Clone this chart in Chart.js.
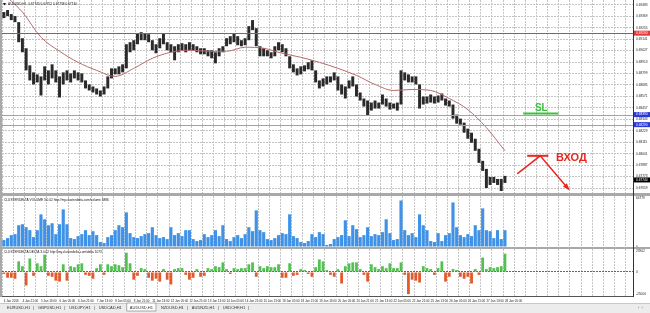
<!DOCTYPE html>
<html lang="en">
<head>
<meta charset="UTF-8">
<title>AUDUSD,H1</title>
<script src="https://cdn.jsdelivr.net/npm/chart.js"></script>
<style>
  body { margin: 0; width: 650px; height: 313px; background: #fff; position: relative; overflow: hidden; }
  canvas { position: absolute; left: 2px; }
  .sep { position: absolute; background: #a9a9a9; }
</style>
</head>
<body>
<div class="sep" style="left:0;top:0;width:2px;height:297px"></div>
<canvas id="priceChart" width="631" height="193" style="top:0"></canvas>
<div class="sep" style="left:0;top:193px;width:650px;height:3px"></div>
<canvas id="volChart" width="648" height="51" style="top:196px"></canvas>
<div class="sep" style="left:0;top:247px;width:650px;height:2px"></div>
<canvas id="deltaChart" width="648" height="56" style="top:249px"></canvas>
<div style="position:absolute;left:633px;top:0;width:1px;height:297px;background:#333"></div>
<div style="position:absolute;left:2px;top:296px;width:631px;height:1px;background:#555"></div>
<canvas id="frame" width="650" height="313" style="left:0;top:0"></canvas>

<script>
// time axis labels, one every 5 slots
var timeLabels = ["4 Jan 2016", "4 Jan 21:00", "5 Jan 13:00", "6 Jan 05:00", "6 Jan 21:00", "7 Jan 13:00",
  "8 Jan 05:00", "8 Jan 21:00", "11 Jan 13:00", "12 Jan 05:00", "12 Jan 21:00", "13 Jan 13:00",
  "14 Jan 05:00", "14 Jan 21:00", "15 Jan 13:00", "18 Jan 05:00", "18 Jan 21:00", "19 Jan 13:00",
  "20 Jan 05:00", "20 Jan 21:00", "21 Jan 13:00", "22 Jan 05:00", "22 Jan 21:00", "25 Jan 13:00",
  "26 Jan 05:00", "26 Jan 21:00", "27 Jan 13:00", "28 Jan 05:00"];

var highs = [
  0.6941, 0.6943, 0.6939, 0.6937, 0.6931, 0.6915, 0.6905, 0.6888, 0.6881, 0.6879,
  0.6877, 0.6887, 0.6883, 0.6889, 0.6883, 0.6877, 0.6881, 0.6883, 0.6880, 0.6883,
  0.6881, 0.6880, 0.6873, 0.6869, 0.6867, 0.6865, 0.6863, 0.6867, 0.6877, 0.6885,
  0.6885, 0.6887, 0.6889, 0.6909, 0.6911, 0.6913, 0.6920, 0.6921, 0.6920, 0.6919,
  0.6913, 0.6909, 0.6915, 0.6920, 0.6911, 0.6909, 0.6907, 0.6909, 0.6910, 0.6909,
  0.6911, 0.6909, 0.6907, 0.6905, 0.6905, 0.6903, 0.6903, 0.6901, 0.6905, 0.6907,
  0.6915, 0.6917, 0.6920, 0.6917, 0.6913, 0.6915, 0.6927, 0.6933, 0.6925, 0.6907,
  0.6905, 0.6903, 0.6901, 0.6907, 0.6911, 0.6909, 0.6905, 0.6897, 0.6889, 0.6885,
  0.6887, 0.6888, 0.6891, 0.6893, 0.6883, 0.6873, 0.6875, 0.6877, 0.6877, 0.6881,
  0.6877, 0.6869, 0.6867, 0.6873, 0.6877, 0.6869, 0.6861, 0.6855, 0.6853, 0.6851,
  0.6853, 0.6851, 0.6859, 0.6855, 0.6851, 0.6850, 0.6851, 0.6883, 0.6881, 0.6879,
  0.6877, 0.6877, 0.6869, 0.6857, 0.6857, 0.6859, 0.6857, 0.6858, 0.6860, 0.6855,
  0.6853, 0.6849, 0.6839, 0.6835, 0.6831, 0.6825, 0.6821, 0.6815, 0.6805, 0.6793,
  0.6785, 0.6777, 0.6777, 0.6775, 0.6775, 0.6778];

var lows = [
  0.6935, 0.6937, 0.6933, 0.6931, 0.6911, 0.6901, 0.6883, 0.6873, 0.6869, 0.6871,
  0.6858, 0.6873, 0.6869, 0.6875, 0.6871, 0.6856, 0.6869, 0.6873, 0.6871, 0.6875,
  0.6873, 0.6871, 0.6865, 0.6863, 0.6861, 0.6859, 0.6857, 0.6859, 0.6865, 0.6875,
  0.6879, 0.6879, 0.6881, 0.6885, 0.6901, 0.6903, 0.6909, 0.6913, 0.6913, 0.6911,
  0.6903, 0.6900, 0.6905, 0.6909, 0.6903, 0.6901, 0.6893, 0.6901, 0.6903, 0.6901,
  0.6903, 0.6903, 0.6901, 0.6899, 0.6899, 0.6897, 0.6895, 0.6890, 0.6897, 0.6901,
  0.6907, 0.6909, 0.6911, 0.6908, 0.6907, 0.6908, 0.6913, 0.6923, 0.6907, 0.6897,
  0.6897, 0.6897, 0.6895, 0.6897, 0.6903, 0.6901, 0.6897, 0.6885, 0.6881, 0.6878,
  0.6879, 0.6882, 0.6884, 0.6883, 0.6871, 0.6865, 0.6867, 0.6869, 0.6871, 0.6873,
  0.6863, 0.6859, 0.6855, 0.6865, 0.6867, 0.6857, 0.6853, 0.6847, 0.6838, 0.6843,
  0.6845, 0.6845, 0.6849, 0.6847, 0.6844, 0.6845, 0.6843, 0.6849, 0.6873, 0.6871,
  0.6871, 0.6869, 0.6845, 0.6849, 0.6850, 0.6851, 0.6850, 0.6851, 0.6853, 0.6848,
  0.6847, 0.6835, 0.6830, 0.6829, 0.6821, 0.6815, 0.6811, 0.6803, 0.6791, 0.6783,
  0.6766, 0.6769, 0.6771, 0.6769, 0.6763, 0.6771];

// moving average read at a few slots
var maIndex = [0, 2, 5, 10, 15, 20, 25, 30, 35, 40, 45, 50, 55, 60, 65, 70, 75, 80, 85, 90, 95,
  100, 105, 110, 115, 120, 125, 130, 135];
var maValues = [0.6959, 0.6952, 0.6941, 0.6916, 0.6902, 0.6891, 0.6883, 0.6877, 0.6885, 0.6895,
  0.6901, 0.6903, 0.6902, 0.6902, 0.6906, 0.6905, 0.6900, 0.6896, 0.6891, 0.6885, 0.6878,
  0.6869, 0.6863, 0.6864, 0.6863, 0.6855, 0.6844, 0.6826, 0.6803];

var volumes = [
  9240, 11880, 15840, 17160, 29040, 30360, 26400, 22440, 13200, 22440,
  43560, 36960, 29040, 31680, 17160, 30360, 50160, 30360, 11880, 10560,
  14520, 17160, 22440, 15840, 21120, 15840, 6600, 5280, 13200, 15840,
  22440, 29040, 26400, 46200, 18480, 13200, 11880, 14520, 17160, 18480,
  26400, 15840, 11880, 13200, 10560, 26400, 15840, 18480, 14520, 22440,
  22440, 10560, 7920, 9240, 17160, 13200, 15840, 22440, 14520, 29040,
  10560, 7920, 13200, 15840, 11880, 17160, 26400, 21120, 48840, 22440,
  19800, 10560, 9240, 11880, 15840, 18480, 17160, 43560, 14520, 11880,
  6600, 5280, 7920, 17160, 13200, 19800, 17160, 2640, 3960, 10560,
  13200, 15840, 35640, 14520, 29040, 23760, 13200, 15840, 26400, 14520,
  17160, 15840, 19800, 36960, 18480, 9240, 10560, 62040, 22440, 15840,
  18480, 13200, 43560, 29040, 22440, 7920, 6600, 18480, 7920, 15840,
  18480, 59400, 26400, 15840, 13200, 17160, 14520, 29040, 22440, 51480,
  22440, 21120, 11880, 22440, 10560, 22440];

var deltas = [
  -2180, -6540, -6540, -7630, 11990, 6540, -15260, 15260, -4360, 9810,
  6540, 19620, -4360, -5450, -9810, -10900, 8720, -9810, 6540, 5450,
  8720, 9810, -3270, -4360, -7630, 4360, 8720, -3270, 8720, 6540,
  8720, 7630, 5450, 21800, 9810, -8720, -4360, 4360, 3270, -6540,
  -9810, -7630, -10900, 3270, -8720, -14170, 3270, 4360, 4360, -3270,
  -8720, -6540, 3270, -5450, -4360, 4360, 3270, 6540, 5450, 10900,
  3270, -2180, 4360, 3270, 4360, 4360, 8720, 10900, -5450, 6540,
  4360, 6540, 5450, 5450, 8720, -6540, -6540, 9810, -4360, -3270,
  3270, 2180, -2180, -5450, 5450, 14170, 11990, 2180, -3270, -5450,
  3270, -13080, 6540, 9810, 10900, 10900, 3270, -3270, -10900, 8720,
  5450, 3270, 6540, 4360, 9810, 4360, 4360, 10900, -3270, -25070,
  -8720, -9810, -11990, 6540, 4360, 3270, -3270, 4360, 11990, -10900,
  -5450, 3270, 2180, -5450, -7630, -5450, -13080, 3270, -3270, 16350,
  3270, 5450, 4360, 5450, 6540, 20710];

var priceTicks = [0.69483, 0.69369, 0.69255, 0.69141, 0.69027, 0.68913, 0.68799, 0.68685, 0.68571,
  0.68457, 0.68343, 0.68229, 0.68115, 0.68001, 0.67887, 0.67773, 0.67659];
var volumeTicks = [0, 64779];
var deltaTicks = [-25000, 0, 23902];
var levelPrices = [0.6920, 0.6839, 0.6829];
var lastPrice = 0.6774;

var slotCount = 170;
var fontFamily = '"Liberation Sans", Arial, sans-serif';

var categories = [];
for (var i = 0; i < slotCount; i++) {
  categories.push(i % 5 === 0 && timeLabels[i / 5] ? timeLabels[i / 5] : '');
}
var maLine = new Array(slotCount).fill(null);
maIndex.forEach(function (k, j) { maLine[k] = maValues[j]; });

function xAxis(showLabels) {
  return {
    type: 'category',
    offset: true,
    grid: {
      offset: true,
      color: function (c) { return c.index % 3 === 0 ? '#c4c4c4' : 'rgba(0,0,0,0)'; },
      drawTicks: showLabels,
      tickLength: 3,
      tickColor: 'rgba(0,0,0,0)'
    },
    border: { display: false, dash: [2, 1] },
    ticks: {
      display: showLabels, autoSkip: false, maxRotation: 0, minRotation: 0, align: 'start', padding: 0,
      color: '#222', font: { size: 3, family: fontFamily }
    },
    afterFit: function (s) { s.height = showLabels ? 9 : 0; s.paddingLeft = 0; s.paddingRight = 0; }
  };
}

function yAxis(tickValues, min, max, gridColor, fmt) {
  return {
    position: 'right', min: min, max: max,
    afterBuildTicks: function (s) { s.ticks = tickValues.map(function (v) { return { value: v }; }); },
    afterFit: function (s) { s.width = 17; s.paddingTop = 0; s.paddingBottom = 0; },
    grid: { color: gridColor, drawTicks: false },
    border: { display: false, dash: [2, 1] },
    ticks: { padding: 3, color: '#222', font: { size: 3.2, family: fontFamily }, callback: fmt }
  };
}

var common = {
  responsive: false, animation: false, devicePixelRatio: 1,
  layout: { padding: 0 },
  plugins: { legend: { display: false }, tooltip: { enabled: false } }
};

// levels, SL and entry marks on the price chart
var priceMarks = {
  id: 'priceMarks',
  afterDatasetsDraw: function (chart) {
    var ctx = chart.ctx, a = chart.chartArea, x = chart.scales.x, y = chart.scales.y;
    ctx.save();
    ctx.setLineDash([]);
    ctx.globalAlpha = 1;
    levelPrices.forEach(function (p, k) {
      var py = Math.round(y.getPixelForValue(p));
      ctx.fillStyle = k === 0 ? 'rgb(226, 60, 60)' : 'rgb(160, 160, 174)';
      ctx.fillRect(a.left, py, a.right - a.left, 1);
    });

    // SL
    ctx.strokeStyle = '#3cbf3c'; ctx.lineWidth = 2;
    ctx.beginPath();
    ctx.moveTo(x.getPixelForValue(139.9), y.getPixelForValue(0.6840));
    ctx.lineTo(x.getPixelForValue(149.4), y.getPixelForValue(0.6840));
    ctx.stroke();
    ctx.fillStyle = '#3cbf3c';
    ctx.font = 'bold 10px ' + fontFamily;
    ctx.textAlign = 'center'; ctx.textBaseline = 'alphabetic';
    ctx.fillText('SL', x.getPixelForValue(144.8), y.getPixelForValue(0.68425));

    // entry
    ctx.strokeStyle = '#e5281f'; ctx.lineWidth = 2;
    ctx.beginPath();
    ctx.moveTo(x.getPixelForValue(141.0), y.getPixelForValue(0.6798));
    ctx.lineTo(x.getPixelForValue(146.7), y.getPixelForValue(0.6798));
    ctx.stroke();
    ctx.lineWidth = 1.5;
    var x0 = x.getPixelForValue(138.3), y0 = y.getPixelForValue(0.6780);
    var x1 = x.getPixelForValue(144.5), y1 = y.getPixelForValue(0.6798);
    var x2 = x.getPixelForValue(152.1), y2 = y.getPixelForValue(0.6765);
    ctx.beginPath(); ctx.moveTo(x0, y0); ctx.lineTo(x1, y1); ctx.lineTo(x2, y2); ctx.stroke();
    var ang = Math.atan2(y2 - y1, x2 - x1);
    ctx.fillStyle = '#e5281f';
    ctx.beginPath();
    ctx.moveTo(x2 + 2 * Math.cos(ang), y2 + 2 * Math.sin(ang));
    ctx.lineTo(x2 - 6 * Math.cos(ang - 0.45), y2 - 6 * Math.sin(ang - 0.45));
    ctx.lineTo(x2 - 6 * Math.cos(ang + 0.45), y2 - 6 * Math.sin(ang + 0.45));
    ctx.closePath(); ctx.fill();
    ctx.font = 'bold 11px ' + fontFamily;
    ctx.fillText('ВХОД', x.getPixelForValue(152.9), y.getPixelForValue(0.6793));
    ctx.restore();
  }
};

new Chart(document.getElementById('priceChart'), {
  type: 'bar',
  data: {
    labels: categories,
    datasets: [
      { type: 'line', data: maLine, borderColor: '#b76b6b', borderWidth: 1, pointRadius: 0,
        spanGaps: true, cubicInterpolationMode: 'monotone', order: 0 },
      { data: highs.map(function (h, k) { return [lows[k], h]; }), backgroundColor: '#2a2a2a',
        barPercentage: 0.8, categoryPercentage: 1, order: 1 }
    ]
  },
  options: Object.assign({}, common, {
    scales: {
      x: xAxis(false),
      y: Object.assign(yAxis(priceTicks, 0.6761, 0.6953, '#c4c4c4', function (v) { return v.toFixed(5); }),
        { afterFit: function (s) { s.width = 0; s.paddingTop = 0; s.paddingBottom = 0; }, ticks: { display: false } })
    }
  }),
  plugins: [priceMarks]
});

new Chart(document.getElementById('volChart'), {
  type: 'bar',
  data: { labels: categories, datasets: [{ data: volumes, backgroundColor: '#3f92e6', barPercentage: 0.85, categoryPercentage: 1 }] },
  options: Object.assign({}, common, {
    scales: { x: xAxis(false), y: yAxis(volumeTicks, 0, 68000, 'rgba(0,0,0,0)', function (v) { return String(v); }) }
  })
});

new Chart(document.getElementById('deltaChart'), {
  type: 'bar',
  data: {
    labels: categories,
    datasets: [{
      data: deltas,
      backgroundColor: deltas.map(function (v) { return v >= 0 ? '#52c152' : '#e2592c'; }),
      barPercentage: 0.75, categoryPercentage: 1
    }]
  },
  options: Object.assign({}, common, {
    scales: {
      x: xAxis(true),
      y: yAxis(deltaTicks, -27180, 26000, function (c) { return c.tick.value === 0 ? '#666' : 'rgba(0,0,0,0)'; },
        function (v) { return String(v); })
    }
  })
});

// price axis on the right, drawn with the same scale as the price chart
(function () {
  var f = document.getElementById('frame').getContext('2d');
  var top = 0, bottom = 193, max = 0.6953, min = 0.6761;
  function py(p) { return top + (max - p) / (max - min) * (bottom - top); }

  f.font = '3.2px ' + fontFamily;
  f.textBaseline = 'middle';
  f.fillStyle = '#222';
  priceTicks.forEach(function (p) { f.fillText(p.toFixed(5), 636, py(p)); });

  var boxColors = ['#e03a3a', '#2b39d4', '#2b39d4'];
  levelPrices.forEach(function (p, k) {
    var yy = py(p);
    f.fillStyle = boxColors[k]; f.fillRect(634, yy - 2.5, 16, 5);
    f.fillStyle = '#fff'; f.fillText(p.toFixed(5), 636, yy);
  });
  f.fillStyle = '#000'; f.fillRect(634, py(lastPrice) - 2.5, 16, 5);
  f.fillStyle = '#fff'; f.fillText(lastPrice.toFixed(5), 636, py(lastPrice));

  // window captions
  f.fillStyle = '#111';
  f.fillText('AUDUSD,H1  0.67745 0.67752 0.67738 0.67740', 8, 4.5);
  f.beginPath(); f.moveTo(3, 3); f.lineTo(6, 3); f.lineTo(4.5, 5.5); f.fill();
  f.fillText('CLUSTERDELTA VOLUME 3.0.02 http://my.clusterdelta.com/volume 5886', 4, 200);
  f.fillText('CLUSTERDELTA DELTA 3.0.02 http://my.clusterdelta.com/delta 1073', 4, 252.5);

  // symbol tabs
  f.fillStyle = '#ececec'; f.fillRect(0, 303, 650, 10);
  f.fillStyle = '#c8c8c8'; f.fillRect(0, 303, 650, 1);
  var tabs = ['EURUSD,H1', 'GBPUSD,H1', 'USDJPY,H1', 'USDCAD,H1', 'AUDUSD,H1', 'NZDUSD,H1', 'AUDNZD,H1', 'USDCHF,H1'];
  var tx = 7;
  f.font = '4px ' + fontFamily;
  tabs.forEach(function (t, k) {
    var w = f.measureText(t).width;
    if (k === 4) {
      f.fillStyle = '#fff'; f.fillRect(tx - 3, 303, w + 6, 8);
      f.strokeStyle = '#777'; f.lineWidth = 0.6; f.strokeRect(tx - 3, 303, w + 6, 8);
    }
    f.fillStyle = '#333'; f.fillText(t, tx, 307.5);
    if (k !== 3 && k !== 4) f.fillText('|', tx + w + 3, 307.5);
    tx += w + 8;
  });
  f.fillStyle = '#666'; f.fillText('‹  ›', 638, 308);
})();
</script>
</body>
</html>
